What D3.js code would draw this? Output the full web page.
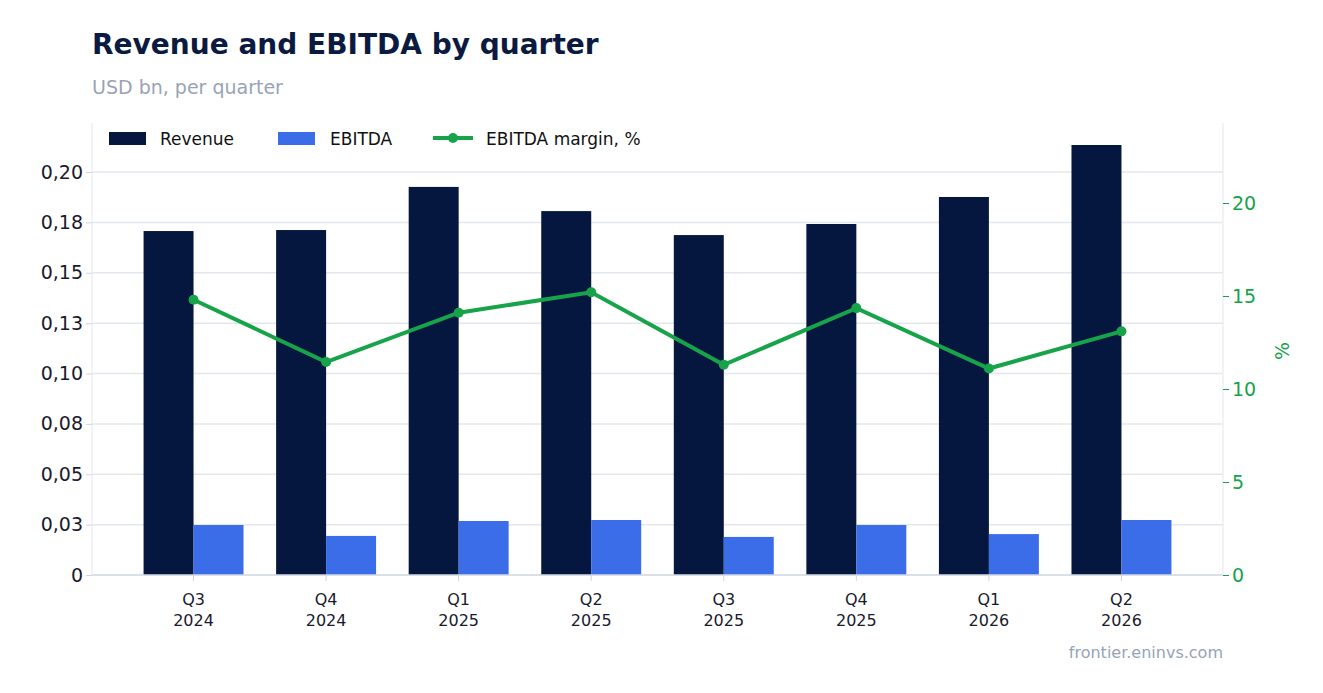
<!DOCTYPE html>
<html>
<meta charset="utf-8">
<head>
<script src="https://cdn.jsdelivr.net/npm/d3@7"></script>
<style>
  body { margin:0; background:#fff; font-family:"DejaVu Sans", sans-serif; }
</style>
</head>
<body>
<svg id="chart" width="1323" height="693"></svg>
<script>
var quarters = ["Q3 2024","Q4 2024","Q1 2025","Q2 2025","Q3 2025","Q4 2025","Q1 2026","Q2 2026"]
var revenue = [0.1707,0.1712,0.1926,0.1806,0.1687,0.1742,0.1876,0.2134]
var ebitda = [0.0248,0.0194,0.0268,0.0273,0.0189,0.0248,0.0203,0.0273]
var margin = [14.8,11.45,14.1,15.2,11.3,14.35,11.1,13.1]
var leftTicks = [0,0.025,0.05,0.075,0.1,0.125,0.15,0.175,0.2]
var rightTicks = [0,5,10,15,20]

var svg = d3.select("#chart")
var L = 92, R = 1223, T = 123, B = 575

var x = d3.scaleBand().domain(quarters).range([L, R]).paddingInner(0.246).paddingOuter(0.389)
var y = d3.scaleLinear().domain([0, 0.2]).range([B, 172])
var y2 = d3.scaleLinear().domain([0, 20]).range([B, 203])

svg.append("text").attr("x", L).attr("y", 54).text("Revenue and EBITDA by quarter")
   .attr("font-size", 28).attr("font-weight", "bold").attr("fill", "#0b1a40")
svg.append("text").attr("x", L).attr("y", 94).text("USD bn, per quarter")
   .attr("font-size", 19).attr("fill", "#98a3b8")

// grid
svg.append("g").selectAll("line").data(leftTicks).enter().append("line")
   .attr("x1", L).attr("x2", R).attr("y1", d => y(d)).attr("y2", d => y(d))
   .attr("stroke", "#e3e7ee").attr("stroke-width", 1.5)
svg.append("line").attr("x1", L).attr("x2", L).attr("y1", T).attr("y2", B).attr("stroke", "#e3e7ee")
svg.append("line").attr("x1", R).attr("x2", R).attr("y1", T).attr("y2", B).attr("stroke", "#e3e7ee")

var fmt = d => d === 0 ? "0" : d3.format(".2f")(d + 1e-9).replace(".", ",")
var ax = svg.append("g").attr("transform", "translate(" + L + ",0)")
   .call(d3.axisLeft(y).tickValues(leftTicks).tickFormat(fmt).tickSize(6))
ax.select(".domain").remove()
ax.selectAll("line").attr("stroke", "#cfd6e0")
ax.selectAll("text").attr("font-size", 19).attr("fill", "#1a1a2e").attr("font-family", "DejaVu Sans")

var ax2 = svg.append("g").attr("transform", "translate(" + R + ",0)")
   .call(d3.axisRight(y2).tickValues(rightTicks).tickSize(6))
ax2.select(".domain").remove()
ax2.selectAll("line").attr("stroke", "#16a34a")
ax2.selectAll("text").attr("font-size", 19).attr("fill", "#16a34a").attr("font-family", "DejaVu Sans")
svg.append("text").attr("transform", "translate(1289,351) rotate(-90)").attr("text-anchor", "middle")
   .text("%").attr("font-size", 19).attr("fill", "#16a34a")

// bars
var bw = x.bandwidth() / 2
svg.append("g").selectAll("rect").data(revenue).enter().append("rect")
   .attr("x", (d, i) => x(quarters[i])).attr("width", bw)
   .attr("y", d => y(d)).attr("height", d => B - y(d)).attr("fill", "#05173f")
svg.append("g").selectAll("rect").data(ebitda).enter().append("rect")
   .attr("x", (d, i) => x(quarters[i]) + bw).attr("width", bw)
   .attr("y", d => y(d)).attr("height", d => B - y(d)).attr("fill", "#3b6de8")

svg.append("line").attr("x1", L).attr("x2", R).attr("y1", B).attr("y2", B).attr("stroke", "#d5dbe5").attr("stroke-width", 1.5)

// x labels
var xl = svg.append("g").selectAll("text").data(quarters).enter().append("text")
   .attr("text-anchor", "middle").attr("font-size", 16).attr("fill", "#1a1a2e")
xl.append("tspan").attr("x", d => x(d) + bw).attr("y", 605).text(d => d.split(" ")[0])
xl.append("tspan").attr("x", d => x(d) + bw).attr("y", 626).text(d => d.split(" ")[1])
svg.append("g").selectAll("line").data(quarters).enter().append("line")
   .attr("x1", d => x(d) + bw).attr("x2", d => x(d) + bw).attr("y1", B).attr("y2", B + 6).attr("stroke", "#cfd6e0")

// line
var line = d3.line().x((d, i) => x(quarters[i]) + bw).y(d => y2(d))
svg.append("path").datum(margin).attr("d", line).attr("fill", "none")
   .attr("stroke", "#16a34a").attr("stroke-width", 4)
svg.append("g").selectAll("circle").data(margin).enter().append("circle")
   .attr("cx", (d, i) => x(quarters[i]) + bw).attr("cy", d => y2(d)).attr("r", 5).attr("fill", "#16a34a")

// legend
var lg = svg.append("g").attr("font-size", 17).attr("fill", "#111")
lg.append("rect").attr("x", 109).attr("y", 132).attr("width", 37).attr("height", 13).attr("fill", "#05173f")
lg.append("text").attr("x", 160).attr("y", 145).text("Revenue")
lg.append("rect").attr("x", 278).attr("y", 132).attr("width", 37).attr("height", 13).attr("fill", "#3b6de8")
lg.append("text").attr("x", 330).attr("y", 145).text("EBITDA")
lg.append("line").attr("x1", 433).attr("x2", 473).attr("y1", 138).attr("y2", 138).attr("stroke", "#16a34a").attr("stroke-width", 4)
lg.append("circle").attr("cx", 453).attr("cy", 138).attr("r", 5).attr("fill", "#16a34a")
lg.append("text").attr("x", 486).attr("y", 145).text("EBITDA margin, %")

svg.append("text").attr("x", R).attr("y", 658).attr("text-anchor", "end")
   .text("frontier.eninvs.com").attr("font-size", 16).attr("fill", "#98a3b8")
</script>
</body>
</html>
